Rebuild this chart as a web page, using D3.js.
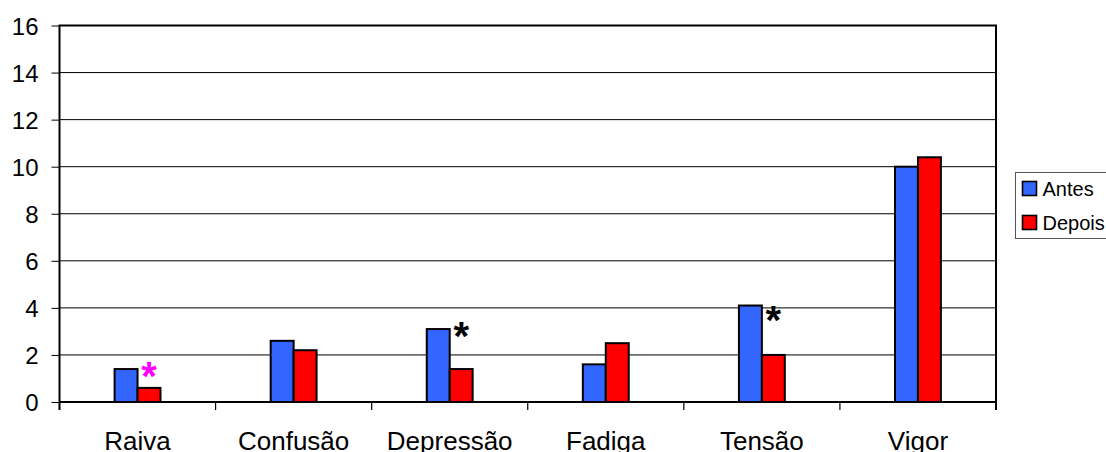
<!DOCTYPE html>
<html>
<head>
<meta charset="utf-8">
<script src="https://cdn.jsdelivr.net/npm/d3@7"></script>
<style>
  html, body { margin: 0; padding: 0; background: #fff; }
  svg { display: block; font-family: "Liberation Sans", Arial, sans-serif; }
</style>
</head>
<body>
<svg id="chart" width="1106" height="452"></svg>
<script>
// POMS mood scores before and after
const categories = ["Raiva", "Confusão", "Depressão", "Fadiga", "Tensão", "Vigor"];
const series = ["Antes", "Depois"];
const antes  = [1.4, 2.6, 3.1, 1.6, 4.1, 10.0];
const depois = [0.6, 2.2, 1.4, 2.5, 2.0, 10.4];
const yTicks = [0, 2, 4, 6, 8, 10, 12, 14, 16];
// significance markers: category, colour and the score level they sit at
const markCats   = ["Raiva", "Depressão", "Tensão"];
const markColors = ["#ff00ff", "#000000", "#000000"];
const markLevels = [1.55, 3.25, 3.9];
const colors = { Antes: "#3366ff", Depois: "#ff0000" };

const svg = d3.select("#chart");
const plot = { left: 59.5, right: 996, top: 25.5, bottom: 402 };

const x = d3.scaleBand().domain(categories).range([plot.left, plot.right]).padding(0);
const bw = x.bandwidth();
const x1 = d3.scaleBand().domain(series).range([bw * 0.353, bw * 0.647]).padding(0);
const y = d3.scaleLinear().domain([0, 16]).range([plot.bottom, plot.top]);

// gridlines
svg.append("g")
  .selectAll("line")
  .data(yTicks.filter(d => d > 0 && d < 16))
  .join("line")
  .attr("x1", plot.left).attr("x2", plot.right)
  .attr("y1", d => y(d)).attr("y2", d => y(d))
  .attr("stroke", "#000").attr("stroke-width", 1);

// y axis
const yAxis = svg.append("g")
  .attr("transform", `translate(${plot.left},0)`)
  .call(d3.axisLeft(y).tickValues(yTicks).tickSize(8).tickPadding(13).tickFormat(d3.format("d")));
yAxis.select(".domain").remove();
yAxis.attr("font-family", "'Liberation Sans', Arial, sans-serif").attr("font-size", 24);
yAxis.selectAll(".tick line").attr("stroke", "#000").attr("stroke-width", 1);
yAxis.selectAll(".tick text").attr("fill", "#000").attr("dy", "0.36em");

// category boundary ticks
const bounds = categories.map(c => x(c)).concat([plot.right]);
svg.append("g")
  .selectAll("line")
  .data(bounds)
  .join("line")
  .attr("x1", d => d).attr("x2", d => d)
  .attr("y1", plot.bottom).attr("y2", plot.bottom + 8)
  .attr("stroke", "#000").attr("stroke-width", 1.2);

// category labels
svg.append("g")
  .selectAll("text")
  .data(categories)
  .join("text")
  .attr("x", d => x(d) + bw / 2)
  .attr("y", 450)
  .attr("text-anchor", "middle")
  .attr("font-size", 26)
  .attr("fill", "#000")
  .text(d => d);

// bars
const rows = categories.map((c, i) => ({ cat: c, values: [
  { key: "Antes", value: antes[i] },
  { key: "Depois", value: depois[i] }
]}));

svg.append("g")
  .selectAll("g")
  .data(rows)
  .join("g")
  .attr("transform", d => `translate(${x(d.cat)},0)`)
  .selectAll("rect")
  .data(d => d.values)
  .join("rect")
  .attr("x", d => x1(d.key))
  .attr("width", x1.bandwidth())
  .attr("y", d => y(d.value))
  .attr("height", d => y(0) - y(d.value))
  .attr("fill", d => colors[d.key])
  .attr("stroke", "#000")
  .attr("stroke-width", 2);

// plot frame
svg.append("path")
  .attr("d", `M${plot.left},${plot.bottom + 8}V${plot.top}H${plot.right}V${plot.bottom + 8}`)
  .attr("fill", "none").attr("stroke", "#000").attr("stroke-width", 2);
svg.append("line")
  .attr("x1", plot.left).attr("x2", plot.right)
  .attr("y1", plot.bottom).attr("y2", plot.bottom)
  .attr("stroke", "#000").attr("stroke-width", 2);

// significance asterisks
svg.append("g")
  .selectAll("text")
  .data(markCats)
  .join("text")
  .attr("x", (d, i) => x(d) + x1("Depois") + x1.bandwidth() / 2)
  .attr("y", (d, i) => y(markLevels[i]) + 24)
  .attr("text-anchor", "middle")
  .attr("font-size", 40)
  .attr("font-weight", "bold")
  .attr("fill", (d, i) => markColors[i])
  .text("*");

// legend
const lg = svg.append("g").attr("transform", "translate(1015.5,172.5)");
lg.append("rect")
  .attr("width", 110).attr("height", 66)
  .attr("fill", "#fff").attr("stroke", "#555").attr("stroke-width", 1);
const li = lg.selectAll("g.item")
  .data(series)
  .join("g")
  .attr("class", "item")
  .attr("transform", (d, i) => `translate(7,${9 + i * 34})`);
li.append("rect")
  .attr("width", 14).attr("height", 14)
  .attr("fill", d => colors[d])
  .attr("stroke", "#000").attr("stroke-width", 1.6);
li.append("text")
  .attr("x", 20).attr("y", 14.5)
  .attr("font-size", 20)
  .attr("fill", "#000")
  .text(d => d);
</script>
</body>
</html>
